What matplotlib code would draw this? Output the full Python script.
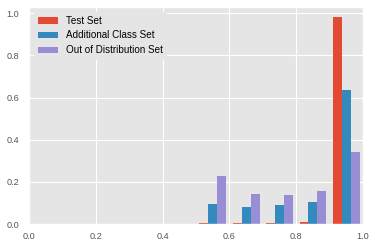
import matplotlib
matplotlib.use('Agg')
import matplotlib.pyplot as plt
import numpy as np

plt.style.use('ggplot')
plt.rcParams['font.family'] = ['Liberation Sans', 'DejaVu Sans']

# histogram bins and per-bin fractions
bin_edges = np.linspace(0.0, 1.0, 11)
bin_centers = [0.55, 0.65, 0.75, 0.85, 0.95]
test_set = [0.005, 0.006, 0.006, 0.011, 0.982]
additional_class = [0.096, 0.082, 0.092, 0.106, 0.636]
out_of_dist = [0.229, 0.144, 0.139, 0.158, 0.343]
labels = ['Test Set', 'Additional Class Set', 'Out of Distribution Set']

fig = plt.figure(figsize=(3.77, 2.47), dpi=100)
ax = fig.add_axes([0.077, 0.093, 0.886, 0.880])

ax.hist([bin_centers] * 3, bins=bin_edges,
        weights=[test_set, additional_class, out_of_dist],
        label=labels)
ax.set_xlim(0, 1)
ax.set_xticks([0.0, 0.2, 0.4, 0.6, 0.8, 1.0])
ax.set_yticks([0.0, 0.2, 0.4, 0.6, 0.8, 1.0])
ax.tick_params(axis='both', length=0, labelsize=6.6, colors='#555555')
ax.tick_params(axis='y', pad=7)
ax.tick_params(axis='x', pad=6)

leg = ax.legend(loc='upper left', fontsize=7.1, frameon=True,
                facecolor='#E5E5E5', edgecolor='#E5E5E5', framealpha=1)

fig.savefig('out.png', dpi=100)
